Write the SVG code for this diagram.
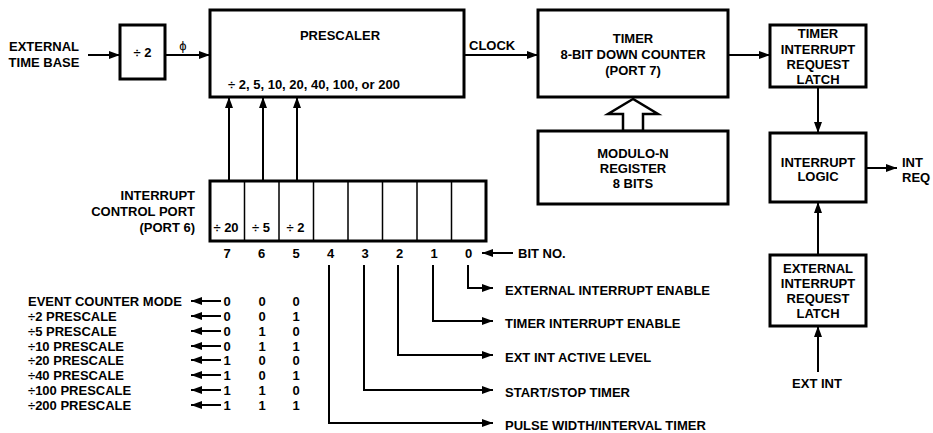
<svg xmlns="http://www.w3.org/2000/svg" width="933" height="433" viewBox="0 0 933 433">
<defs>
<marker id="ah" markerUnits="userSpaceOnUse" markerWidth="12" markerHeight="8" refX="11" refY="4" orient="auto"><path d="M0,0 L11,4 L0,8 z" fill="#000"/></marker>
</defs>
<style>
text{font-family:"Liberation Sans",Arial,Helvetica,sans-serif;font-weight:bold;font-size:13px;fill:#000}
.c{text-anchor:middle}
.e{text-anchor:end}
.box{fill:#fff;stroke:#000;stroke-width:3}
.cell{fill:none;stroke:#000;stroke-width:1.5}
.ln{fill:none;stroke:#000;stroke-width:2}
.ar{fill:none;stroke:#000;stroke-width:2;marker-end:url(#ah)}
</style>
<rect width="933" height="433" fill="#fff"/>

<g id="connectors">
<line class="ar" x1="88" y1="55" x2="120" y2="55"/>
<line class="ar" x1="165" y1="55" x2="210" y2="55"/>
<line class="ar" x1="464" y1="55" x2="538" y2="55"/>
<line class="ar" x1="728" y1="55" x2="770" y2="55"/>
<line class="ar" x1="818" y1="87" x2="818" y2="133"/>
<line class="ar" x1="866" y1="168" x2="897" y2="168"/>
<line class="ar" x1="818" y1="255" x2="818" y2="202"/>
<line class="ar" x1="818" y1="372" x2="818" y2="326"/>
<line class="ar" x1="229" y1="181" x2="229" y2="97"/>
<line class="ar" x1="263" y1="181" x2="263" y2="97"/>
<line class="ar" x1="297" y1="181" x2="297" y2="97"/>
<line class="ar" x1="513" y1="253" x2="482" y2="253"/>
<path class="ar" d="M468,265 V288 H493"/>
<path class="ar" d="M433,265 V321 H493"/>
<path class="ar" d="M398,265 V355 H493"/>
<path class="ar" d="M364,265 V390 H493"/>
<path class="ar" d="M329,265 V423 H493"/>
<polygon points="633,99 608,114 623,114 623,131 643,131 643,114 658,114" fill="#fff" stroke="#000" stroke-width="2.5"/>
<line class="ar" x1="221" y1="301" x2="191" y2="301"/>
<line class="ar" x1="221" y1="316" x2="191" y2="316"/>
<line class="ar" x1="221" y1="331" x2="191" y2="331"/>
<line class="ar" x1="221" y1="346" x2="191" y2="346"/>
<line class="ar" x1="221" y1="360" x2="191" y2="360"/>
<line class="ar" x1="221" y1="375" x2="191" y2="375"/>
<line class="ar" x1="221" y1="390" x2="191" y2="390"/>
<line class="ar" x1="221" y1="405" x2="191" y2="405"/>
</g>

<g id="ext-time-base">
<text class="c" x="44" y="51">EXTERNAL</text>
<text class="c" x="44" y="67">TIME BASE</text>
</g>

<g id="div2">
<rect class="box" x="120" y="25" width="45" height="54"/>
<text class="c" x="142.5" y="57">÷ 2</text>
</g>
<text id="phi" class="c" x="183" y="50" style="font-weight:normal">ϕ</text>

<g id="prescaler">
<rect class="box" x="210" y="10" width="254" height="87"/>
<text class="c" x="340" y="40">PRESCALER</text>
<text x="228" y="88.5">÷ 2, 5, 10, 20, 40, 100, or 200</text>
</g>
<text id="clock" x="469" y="50">CLOCK</text>

<g id="timer">
<rect class="box" x="538" y="10" width="190" height="87"/>
<text class="c" x="633" y="43">TIMER</text>
<text class="c" x="633" y="58.5">8-BIT DOWN COUNTER</text>
<text class="c" x="633" y="74.5">(PORT 7)</text>
</g>

<g id="modulo">
<rect class="box" x="538" y="131" width="190" height="73"/>
<text class="c" x="633" y="157.5">MODULO-N</text>
<text class="c" x="633" y="172.5">REGISTER</text>
<text class="c" x="633" y="187.5">8 BITS</text>
</g>

<g id="til">
<rect class="box" x="770" y="25" width="96" height="62"/>
<text class="c" x="818" y="37.5">TIMER</text>
<text class="c" x="818" y="53.5">INTERRUPT</text>
<text class="c" x="818" y="68.5">REQUEST</text>
<text class="c" x="818" y="83.5">LATCH</text>
</g>

<g id="intlogic">
<rect class="box" x="770" y="133" width="96" height="69"/>
<text class="c" x="818" y="166.5">INTERRUPT</text>
<text class="c" x="818" y="180.5">LOGIC</text>
</g>
<g id="intreq">
<text x="902" y="167">INT</text>
<text x="902" y="182">REQ</text>
</g>

<g id="eirl">
<rect class="box" x="770" y="255" width="96" height="71"/>
<text class="c" x="818" y="272.5">EXTERNAL</text>
<text class="c" x="818" y="287.5">INTERRUPT</text>
<text class="c" x="818" y="302.5">REQUEST</text>
<text class="c" x="818" y="317.5">LATCH</text>
</g>
<text id="extint" class="c" x="817" y="387.5">EXT INT</text>

<g id="port">
<rect class="box" x="210" y="181" width="276" height="60" fill="none"/>
<path class="cell" d="M244.5,181V241M279,181V241M313.5,181V241M348,181V241M382.5,181V241M417,181V241M451.5,181V241"/>
<text class="c" x="226" y="231.5">÷ 20</text>
<text class="c" x="261" y="231.5">÷ 5</text>
<text class="c" x="295.5" y="231.5">÷ 2</text>
<text class="e" x="195" y="199.5">INTERRUPT</text>
<text class="e" x="195" y="215.5">CONTROL PORT</text>
<text class="e" x="195" y="231.5">(PORT 6)</text>
<text class="c" x="227.2" y="257.5">7</text>
<text class="c" x="261.7" y="257.5">6</text>
<text class="c" x="296.2" y="257.5">5</text>
<text class="c" x="330.7" y="257.5">4</text>
<text class="c" x="365.2" y="257.5">3</text>
<text class="c" x="399.7" y="257.5">2</text>
<text class="c" x="434.2" y="257.5">1</text>
<text class="c" x="468.7" y="257.5">0</text>
</g>
<text id="bitno" x="518" y="257.5">BIT NO.</text>

<g id="bit-functions">
<text x="505" y="294.5">EXTERNAL INTERRUPT ENABLE</text>
<text x="505" y="327.5">TIMER INTERRUPT ENABLE</text>
<text x="505" y="361.5">EXT INT ACTIVE LEVEL</text>
<text x="505" y="396.5">START/STOP TIMER</text>
<text x="505" y="429.5">PULSE WIDTH/INTERVAL TIMER</text>
</g>

<g id="mode-table">
<text x="28" y="305.5">EVENT COUNTER MODE</text>
<text x="28" y="320.5">÷2 PRESCALE</text>
<text x="28" y="335.5">÷5 PRESCALE</text>
<text x="28" y="350.5">÷10 PRESCALE</text>
<text x="28" y="364.5">÷20 PRESCALE</text>
<text x="28" y="379.5">÷40 PRESCALE</text>
<text x="28" y="394.5">÷100 PRESCALE</text>
<text x="28" y="409.5">÷200 PRESCALE</text>
<g class="c">
<text class="c" x="227" y="305.5">0</text><text class="c" x="262" y="305.5">0</text><text class="c" x="296" y="305.5">0</text>
<text class="c" x="227" y="320.5">0</text><text class="c" x="262" y="320.5">0</text><text class="c" x="296" y="320.5">1</text>
<text class="c" x="227" y="335.5">0</text><text class="c" x="262" y="335.5">1</text><text class="c" x="296" y="335.5">0</text>
<text class="c" x="227" y="350.5">0</text><text class="c" x="262" y="350.5">1</text><text class="c" x="296" y="350.5">1</text>
<text class="c" x="227" y="364.5">1</text><text class="c" x="262" y="364.5">0</text><text class="c" x="296" y="364.5">0</text>
<text class="c" x="227" y="379.5">1</text><text class="c" x="262" y="379.5">0</text><text class="c" x="296" y="379.5">1</text>
<text class="c" x="227" y="394.5">1</text><text class="c" x="262" y="394.5">1</text><text class="c" x="296" y="394.5">0</text>
<text class="c" x="227" y="409.5">1</text><text class="c" x="262" y="409.5">1</text><text class="c" x="296" y="409.5">1</text>
</g>
</g>
</svg>
